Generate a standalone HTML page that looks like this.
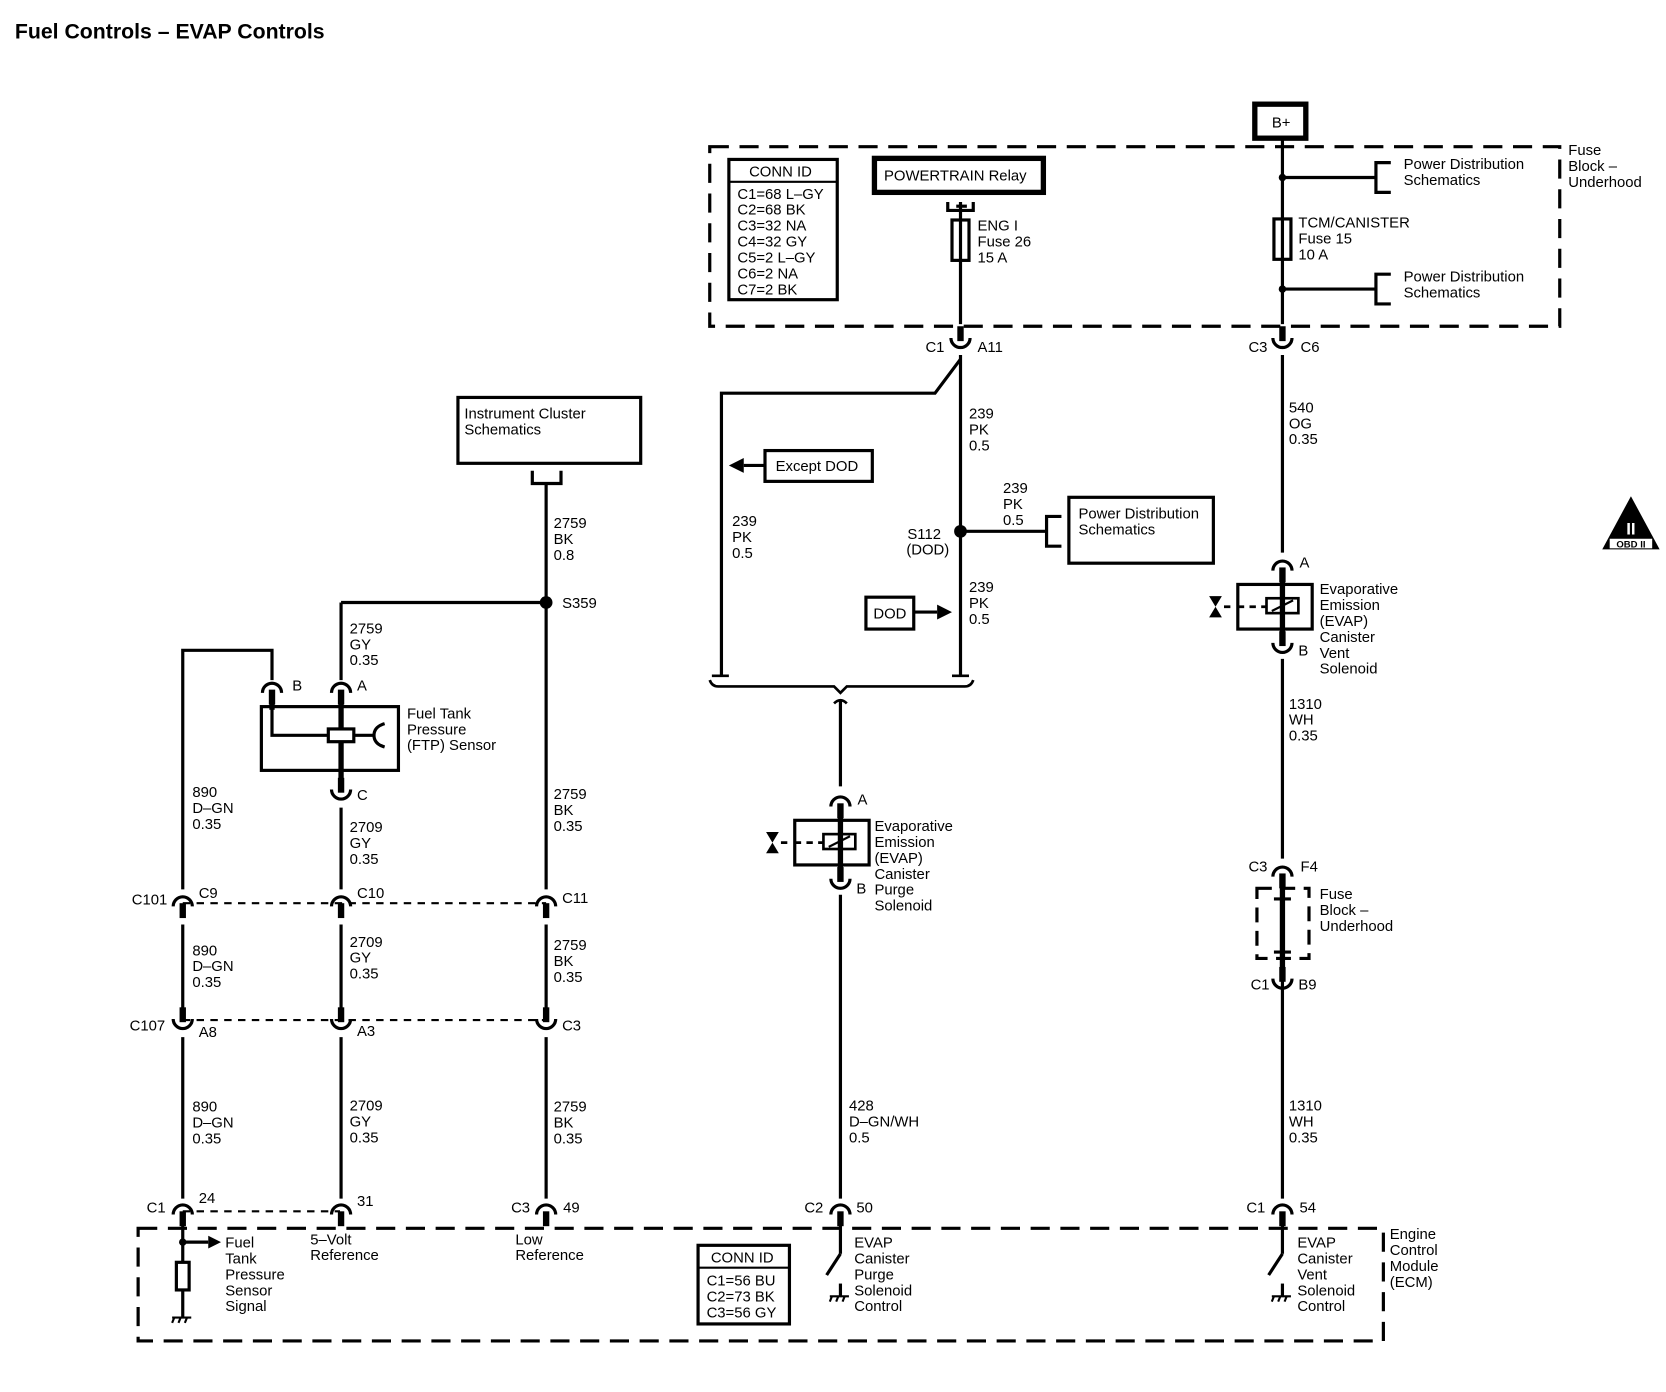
<!DOCTYPE html>
<html><head><meta charset="utf-8"><style>
html,body{margin:0;padding:0;background:#fff}
svg{display:block}
text{font-family:"Liberation Sans",Arial,sans-serif;font-size:14px;fill:#000}
</style></head><body>
<svg width="1666" height="1392" viewBox="0 0 1568 1310" xmlns="http://www.w3.org/2000/svg">
<defs>
<g id="capd"><path d="M-9,7 A9,9 0 0 1 9,7" fill="none" stroke="#000" stroke-width="3"/><line x1="0" y1="4" x2="0" y2="18" stroke="#000" stroke-width="6"/></g>
<g id="cupu"><path d="M-9,-7 A9,9 0 0 0 9,-7" fill="none" stroke="#000" stroke-width="3"/><line x1="0" y1="-4" x2="0" y2="-18" stroke="#000" stroke-width="6"/></g>
</defs>
<g fill="none" stroke="#000">
<!-- top fuse block dashed -->
<path d="M668,138 H1468 V307 H668 Z" stroke-width="3" stroke-dasharray="18,10"/>
<!-- ECM dashed -->
<path d="M130,1156 H1302 V1262 H130 Z" stroke-width="3" stroke-dasharray="18,10"/>
<!-- fuse block underhood small dashed -->
<path d="M1183,836 H1232 V902 H1183 Z" stroke-width="3" stroke-dasharray="14,8"/>
<!-- conn dashed lines -->
<line x1="172" y1="850" x2="514" y2="850" stroke-width="2" stroke-dasharray="7,6"/>
<line x1="172" y1="960" x2="514" y2="960" stroke-width="2" stroke-dasharray="7,6"/>
<line x1="172" y1="1140" x2="320" y2="1140" stroke-width="2" stroke-dasharray="7,6"/>
</g>
<g stroke="#000" stroke-width="3" fill="none">
<!-- B+ right wire -->
<rect x="1181" y="98" width="48" height="32" stroke-width="5"/>
<line x1="1207" y1="130" x2="1207" y2="305"/>
<line x1="1207" y1="334" x2="1207" y2="520"/>
<line x1="1207" y1="167" x2="1295" y2="167"/>
<path d="M1309,153 H1295 V181 H1309"/>
<line x1="1207" y1="272" x2="1295" y2="272"/>
<path d="M1309,258 H1295 V286 H1309"/>
<rect x="1199" y="206" width="16" height="38" fill="#fff"/>
<line x1="1207" y1="206" x2="1207" y2="244"/>
<!-- vent solenoid -->
<rect x="1165" y="550" width="70" height="42"/>
<rect x="1192" y="563" width="30" height="14" stroke-width="2.5"/>
<line x1="1197" y1="575" x2="1217" y2="565" stroke-width="2"/>
<line x1="1207" y1="540" x2="1207" y2="600" stroke-width="5"/>
<path d="M1152,571 H1160 M1165,571 H1192" stroke-width="2.5" stroke-dasharray="6,5"/>
<line x1="1207" y1="620" x2="1207" y2="808"/>
<line x1="1207" y1="828" x2="1207" y2="1128"/>
<line x1="1207" y1="826" x2="1207" y2="918" stroke-width="5"/>
<line x1="1199" y1="846" x2="1215" y2="846"/>
<line x1="1199" y1="896" x2="1215" y2="896"/>
<!-- ENG I fuse column -->
<rect x="823" y="149" width="159" height="32" stroke-width="5"/>
<path d="M892,190 V198 H916 V190"/>
<line x1="900" y1="194" x2="910" y2="194"/>
<line x1="904" y1="190" x2="904" y2="305"/>
<rect x="896" y="207" width="16" height="38" fill="#fff"/>
<line x1="904" y1="207" x2="904" y2="245"/>
<line x1="904" y1="334" x2="904" y2="635"/>
<path d="M904,338 L880,370 H679 V635"/>
<line x1="904" y1="500" x2="985" y2="500"/>
<path d="M999,486 H985 V514 H999"/>
<rect x="1006" y="468" width="136" height="62"/>
<rect x="720" y="424" width="101" height="29"/>
<line x1="720" y1="438" x2="700" y2="438"/>
<rect x="815" y="562" width="45" height="30"/>
<line x1="860" y1="576" x2="882" y2="576"/>
<!-- brace -->
<path d="M668,640 Q670,646 676,646 H785 L791,652 L797,646 H908 Q914,646 916,640" stroke-width="2.5"/>
<path d="M670,636 H686 M896,636 H912" stroke-width="2.5"/>
<path d="M785,662 Q791,656 797,662" stroke-width="2.5"/>
<line x1="791" y1="660" x2="791" y2="740"/>
<!-- purge solenoid -->
<rect x="748" y="772" width="70" height="42"/>
<rect x="775" y="785" width="30" height="14" stroke-width="2.5"/>
<line x1="780" y1="797" x2="800" y2="787" stroke-width="2"/>
<line x1="791" y1="762" x2="791" y2="822" stroke-width="5"/>
<path d="M735,793 H743 M748,793 H775" stroke-width="2.5" stroke-dasharray="6,5"/>
<line x1="791" y1="842" x2="791" y2="1128"/>
<!-- ECM switches -->
<line x1="791" y1="1150" x2="791" y2="1180"/>
<line x1="791" y1="1180" x2="778" y2="1200"/>
<line x1="791" y1="1208" x2="791" y2="1220"/>
<line x1="1207" y1="1150" x2="1207" y2="1180"/>
<line x1="1207" y1="1180" x2="1194" y2="1200"/>
<line x1="1207" y1="1208" x2="1207" y2="1220"/>
<!-- instrument cluster -->
<rect x="431" y="374" width="172" height="62"/>
<path d="M501,443 V455 H528 V443"/>
<line x1="514" y1="455" x2="514" y2="837"/>
<line x1="321" y1="567" x2="514" y2="567"/>
<line x1="321" y1="567" x2="321" y2="640"/>
<!-- FTP -->
<rect x="246" y="665" width="129" height="60"/>
<line x1="321" y1="655" x2="321" y2="740" stroke-width="5"/>
<line x1="256" y1="655" x2="256" y2="668" stroke-width="5"/>
<path d="M256,665 V692 H309"/>
<rect x="309" y="686" width="24" height="12" fill="#fff"/>
<line x1="333" y1="692" x2="352" y2="692"/>
<path d="M362,681 Q352,684 352,692 Q352,700 362,703"/>
<path d="M256,640 V612 H172 V837"/>
<line x1="321" y1="760" x2="321" y2="837"/>
<!-- between connectors -->
<line x1="172" y1="870" x2="172" y2="955" stroke-width="3"/>
<line x1="321" y1="870" x2="321" y2="955"/>
<line x1="514" y1="870" x2="514" y2="955"/>
<line x1="172" y1="976" x2="172" y2="1128"/>
<line x1="321" y1="976" x2="321" y2="1128"/>
<line x1="514" y1="976" x2="514" y2="1128"/>
<!-- ECM left -->
<line x1="172" y1="1150" x2="172" y2="1240"/>
<line x1="172" y1="1169" x2="196" y2="1169"/>
<rect x="166" y="1188" width="12" height="26" fill="#fff"/>
<!-- conn id bottom -->
<rect x="657" y="1172" width="86" height="74"/>
<line x1="657" y1="1193" x2="743" y2="1193" stroke-width="2"/>
<!-- conn id top -->
<rect x="686" y="150" width="102" height="132"/>
<line x1="686" y1="171" x2="788" y2="171" stroke-width="2"/>
</g>
<!-- arrows, dots -->
<g fill="#000">
<polygon points="686,438 700,431 700,445"/>
<polygon points="896,576 882,569 882,583"/>
<polygon points="208,1169 196,1163 196,1175"/>
<circle cx="904" cy="500" r="6"/>
<circle cx="514" cy="567" r="6"/>
<circle cx="1207" cy="167" r="3.5"/>
<circle cx="1207" cy="272" r="3.5"/>
<circle cx="172" cy="1169" r="3.5"/>
<polygon points="1138,561 1150,561 1144,571"/><polygon points="1138,581 1150,581 1144,571"/>
<polygon points="721,783 733,783 727,793"/><polygon points="721,803 733,803 727,793"/>
<!-- OBD -->
<polygon points="1535,467 1508,517 1562,517"/>
</g>
<text x="1535" y="503" text-anchor="middle" style="fill:#fff;font-size:16px;font-weight:bold">II</text>
<rect x="1515" y="507" width="40" height="9" fill="#fff"/>
<text x="1535" y="515" text-anchor="middle" style="font-size:9px;font-weight:bold">OBD II</text>
<!-- grounds -->
<g stroke="#000" stroke-width="2">
<line x1="162" y1="1240" x2="180" y2="1240"/><line x1="164" y1="1240" x2="162" y2="1245"/><line x1="170" y1="1240" x2="168" y2="1245"/><line x1="176" y1="1240" x2="174" y2="1245"/>
<line x1="781" y1="1220" x2="799" y2="1220"/><line x1="783" y1="1220" x2="781" y2="1225"/><line x1="789" y1="1220" x2="787" y2="1225"/><line x1="795" y1="1220" x2="793" y2="1225"/>
<line x1="1197" y1="1220" x2="1215" y2="1220"/><line x1="1199" y1="1220" x2="1197" y2="1225"/><line x1="1205" y1="1220" x2="1203" y2="1225"/><line x1="1211" y1="1220" x2="1209" y2="1225"/>
</g>
<!-- connectors -->
<use href="#cupu" x="904" y="325"/>
<use href="#cupu" x="1207" y="325"/>
<use href="#capd" x="1207" y="530"/>
<use href="#cupu" x="1207" y="612"/>
<use href="#capd" x="1207" y="818"/>
<use href="#cupu" x="1207" y="928"/>
<use href="#capd" x="791" y="752"/>
<use href="#cupu" x="791" y="834"/>
<use href="#capd" x="321" y="645"/>
<use href="#capd" x="256" y="645"/>
<use href="#cupu" x="321" y="750"/>
<use href="#capd" x="172" y="846"/>
<use href="#capd" x="321" y="846"/>
<use href="#capd" x="514" y="846"/>
<use href="#cupu" x="172" y="966"/>
<use href="#cupu" x="321" y="966"/>
<use href="#cupu" x="514" y="966"/>
<use href="#capd" x="172" y="1136"/>
<use href="#capd" x="321" y="1136"/>
<use href="#capd" x="514" y="1136"/>
<use href="#capd" x="791" y="1136"/>
<use href="#capd" x="1207" y="1136"/>
<!-- texts -->
<text x="14" y="36" style="font-size:20px;font-weight:bold">Fuel Controls – EVAP Controls</text>
<text x="1197" y="120">B+</text>
<text x="1476" y="146">Fuse</text><text x="1476" y="161">Block –</text><text x="1476" y="176">Underhood</text>
<text x="1321" y="159">Power Distribution</text><text x="1321" y="174">Schematics</text>
<text x="1321" y="265">Power Distribution</text><text x="1321" y="280">Schematics</text>
<text x="1222" y="214">TCM/CANISTER</text><text x="1222" y="229">Fuse 15</text><text x="1222" y="244">10 A</text>
<text x="832" y="170">POWERTRAIN Relay</text>
<text x="920" y="217">ENG I</text><text x="920" y="232">Fuse 26</text><text x="920" y="247">15 A</text>
<text x="705" y="166">CONN ID</text>
<text x="694" y="187">C1=68 L–GY</text><text x="694" y="202">C2=68 BK</text><text x="694" y="217">C3=32 NA</text><text x="694" y="232">C4=32 GY</text><text x="694" y="247">C5=2 L–GY</text><text x="694" y="262">C6=2 NA</text><text x="694" y="277">C7=2 BK</text>
<text x="871" y="331">C1</text><text x="920" y="331">A11</text>
<text x="1175" y="331">C3</text><text x="1224" y="331">C6</text>
<text x="912" y="394">239</text><text x="912" y="409">PK</text><text x="912" y="424">0.5</text>
<text x="1213" y="388">540</text><text x="1213" y="403">OG</text><text x="1213" y="418">0.35</text>
<text x="730" y="443">Except DOD</text>
<text x="944" y="464">239</text><text x="944" y="479">PK</text><text x="944" y="494">0.5</text>
<text x="1015" y="488">Power Distribution</text><text x="1015" y="503">Schematics</text>
<text x="689" y="495">239</text><text x="689" y="510">PK</text><text x="689" y="525">0.5</text>
<text x="854" y="507">S112</text><text x="853" y="522">(DOD)</text>
<text x="912" y="557">239</text><text x="912" y="572">PK</text><text x="912" y="587">0.5</text>
<text x="822" y="582">DOD</text>
<text x="1223" y="534">A</text>
<text x="1242" y="559">Evaporative</text><text x="1242" y="574">Emission</text><text x="1242" y="589">(EVAP)</text><text x="1242" y="604">Canister</text><text x="1242" y="619">Vent</text><text x="1242" y="634">Solenoid</text>
<text x="1222" y="617">B</text>
<text x="1213" y="667">1310</text><text x="1213" y="682">WH</text><text x="1213" y="697">0.35</text>
<text x="1175" y="820">C3</text><text x="1224" y="820">F4</text>
<text x="1242" y="846">Fuse</text><text x="1242" y="861">Block –</text><text x="1242" y="876">Underhood</text>
<text x="1177" y="931">C1</text><text x="1222" y="931">B9</text>
<text x="1213" y="1045">1310</text><text x="1213" y="1060">WH</text><text x="1213" y="1075">0.35</text>
<text x="437" y="394">Instrument Cluster</text><text x="437" y="409">Schematics</text>
<text x="521" y="497">2759</text><text x="521" y="512">BK</text><text x="521" y="527">0.8</text>
<text x="529" y="572">S359</text>
<text x="329" y="596">2759</text><text x="329" y="611">GY</text><text x="329" y="626">0.35</text>
<text x="275" y="650">B</text><text x="336" y="650">A</text>
<text x="383" y="676">Fuel Tank</text><text x="383" y="691">Pressure</text><text x="383" y="706">(FTP) Sensor</text>
<text x="336" y="753">C</text>
<text x="181" y="750">890</text><text x="181" y="765">D–GN</text><text x="181" y="780">0.35</text>
<text x="329" y="783">2709</text><text x="329" y="798">GY</text><text x="329" y="813">0.35</text>
<text x="521" y="752">2759</text><text x="521" y="767">BK</text><text x="521" y="782">0.35</text>
<text x="807" y="757">A</text>
<text x="823" y="782">Evaporative</text><text x="823" y="797">Emission</text><text x="823" y="812">(EVAP)</text><text x="823" y="827">Canister</text><text x="823" y="842">Purge</text><text x="823" y="857">Solenoid</text>
<text x="806" y="841">B</text>
<text x="124" y="851">C101</text><text x="187" y="845">C9</text><text x="336" y="845">C10</text><text x="529" y="850">C11</text>
<text x="181" y="899">890</text><text x="181" y="914">D–GN</text><text x="181" y="929">0.35</text>
<text x="329" y="891">2709</text><text x="329" y="906">GY</text><text x="329" y="921">0.35</text>
<text x="521" y="894">2759</text><text x="521" y="909">BK</text><text x="521" y="924">0.35</text>
<text x="122" y="970">C107</text><text x="187" y="976">A8</text><text x="336" y="975">A3</text><text x="529" y="970">C3</text>
<text x="181" y="1046">890</text><text x="181" y="1061">D–GN</text><text x="181" y="1076">0.35</text>
<text x="329" y="1045">2709</text><text x="329" y="1060">GY</text><text x="329" y="1075">0.35</text>
<text x="521" y="1046">2759</text><text x="521" y="1061">BK</text><text x="521" y="1076">0.35</text>
<text x="799" y="1045">428</text><text x="799" y="1060">D–GN/WH</text><text x="799" y="1075">0.5</text>
<text x="138" y="1141">C1</text><text x="187" y="1132">24</text><text x="336" y="1135">31</text>
<text x="481" y="1141">C3</text><text x="530" y="1141">49</text>
<text x="757" y="1141">C2</text><text x="806" y="1141">50</text>
<text x="1173" y="1141">C1</text><text x="1223" y="1141">54</text>
<text x="212" y="1174">Fuel</text><text x="212" y="1189">Tank</text><text x="212" y="1204">Pressure</text><text x="212" y="1219">Sensor</text><text x="212" y="1234">Signal</text>
<text x="292" y="1171">5–Volt</text><text x="292" y="1186">Reference</text>
<text x="485" y="1171">Low</text><text x="485" y="1186">Reference</text>
<text x="669" y="1188">CONN ID</text>
<text x="665" y="1210">C1=56 BU</text><text x="665" y="1225">C2=73 BK</text><text x="665" y="1240">C3=56 GY</text>
<text x="804" y="1174">EVAP</text><text x="804" y="1189">Canister</text><text x="804" y="1204">Purge</text><text x="804" y="1219">Solenoid</text><text x="804" y="1234">Control</text>
<text x="1221" y="1174">EVAP</text><text x="1221" y="1189">Canister</text><text x="1221" y="1204">Vent</text><text x="1221" y="1219">Solenoid</text><text x="1221" y="1234">Control</text>
<text x="1308" y="1166">Engine</text><text x="1308" y="1181">Control</text><text x="1308" y="1196">Module</text><text x="1308" y="1211">(ECM)</text>
</svg>
</body></html>
